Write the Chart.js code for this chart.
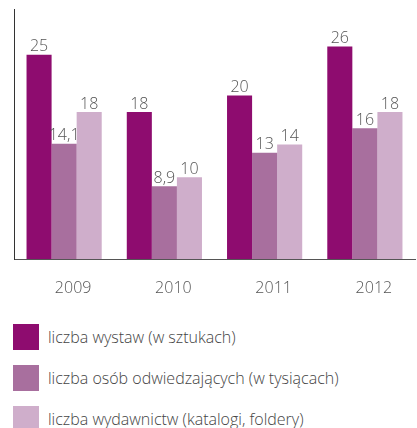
<!DOCTYPE html>
<html><head><meta charset="utf-8">
<script src="https://cdn.jsdelivr.net/npm/chart.js@4"></script>
<style>
html,body{margin:0;padding:0;background:#fff;}
#wrap{position:absolute;left:0;top:0;width:417px;height:300px;}
#legend{position:absolute;left:13px;top:324px;font-family:"Open Sans",sans-serif;font-weight:300;font-size:16px;color:#444;}
.item{display:flex;align-items:center;height:26px;margin-bottom:15px;white-space:nowrap;}
.sw{width:26px;height:26px;margin-right:9px;flex:none;}
</style></head><body>
<div id="wrap"><canvas id="c"></canvas></div>
<div id="legend"></div>
<script>
const categories = ["2009", "2010", "2011", "2012"];
const seriesNames = ["liczba wystaw (w sztukach)", "liczba osób odwiedzających (w tysiącach)", "liczba wydawnictw (katalogi, foldery)"];
const wystawy = [25, 18, 20, 26];
const osoby = [14.1, 8.9, 13, 16];
const wydawnictwa = [18, 10, 14, 18];
const colors = ["#8e0c6f", "#a86f9e", "#cfaecb"];

const series = [wystawy, osoby, wydawnictwa];
const fmt = v => String(v).replace('.', ',');

const labelPlugin = {
  id: 'vlabels',
  afterDatasetsDraw(chart) {
    const ctx = chart.ctx;
    ctx.save();
    ctx.font = '300 16px "Open Sans", sans-serif';
    ctx.fillStyle = '#555';
    ctx.textAlign = 'center';
    ctx.textBaseline = 'bottom';
    chart.data.datasets.forEach((ds, i) => {
      chart.getDatasetMeta(i).data.forEach((bar, j) => {
        ctx.fillText(fmt(ds.data[j]), bar.x, bar.y);
      });
    });
    ctx.restore();
  }
};

new Chart(document.getElementById('c'), {
  type: 'bar',
  data: {
    labels: categories,
    datasets: series.map((d, i) => ({
      label: seriesNames[i], data: d, backgroundColor: colors[i],
      barPercentage: 1, categoryPercentage: 0.75
    }))
  },
  options: {
    responsive: true, maintainAspectRatio: false, animation: false,
    layout: { padding: { left: 13, top: 9, right: 2, bottom: 0 } },
    plugins: { legend: { display: false }, tooltip: { enabled: false } },
    scales: {
      x: {
        grid: { display: false },
        border: { display: true, color: '#555', width: 1 },
        ticks: { color: '#555', font: { family: '"Open Sans", sans-serif', size: 16, weight: 300 }, labelOffset: 9, padding: 12 },
        afterFit(s) { s.height = 41; }
      },
      y: {
        min: 0, max: 30.6,
        grid: { display: false },
        border: { display: true, color: '#333', width: 1 },
        ticks: { display: false },
        afterFit(s) { s.width = 1; }
      }
    }
  },
  plugins: [labelPlugin]
});

const lg = document.getElementById('legend');
seriesNames.forEach((n, i) => {
  const it = document.createElement('div'); it.className = 'item';
  const sw = document.createElement('div'); sw.className = 'sw'; sw.style.background = colors[i];
  const t = document.createElement('span'); t.textContent = n;
  it.appendChild(sw); it.appendChild(t); lg.appendChild(it);
});
</script>
</body></html>
